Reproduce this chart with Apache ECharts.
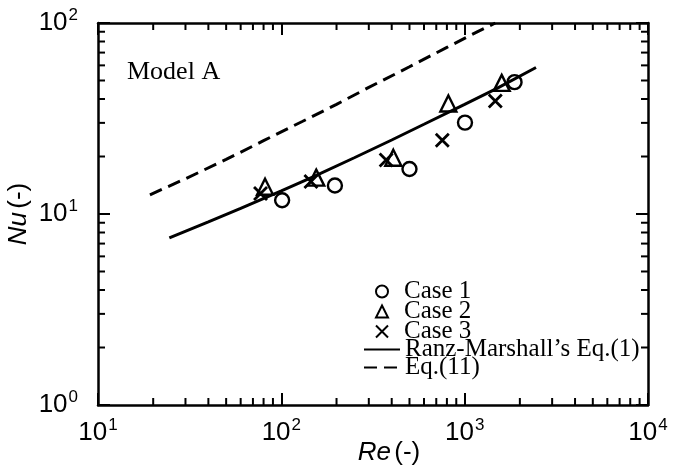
<!DOCTYPE html>
<html>
<head>
<meta charset="utf-8">
<script src="https://cdn.jsdelivr.net/npm/echarts@6/dist/echarts.min.js"></script>
<style>html,body{margin:0;padding:0;background:#fff}#c{width:673px;height:473px}</style>
</head>
<body>
<div id="c"></div>
<script>
// Case data (Re, Nu)
const case1Re = [101, 196, 500, 1004, 1871];
const case1Nu = [11.8, 14.1, 17.2, 30.1, 49.0];
const case2Re = [81.5, 155, 408, 815, 1592];
const case2Nu = [13.9, 15.5, 19.7, 37.9, 48.6];
const case3Re = [77, 145, 373, 755, 1469];
const case3Nu = [12.8, 14.8, 19.2, 24.3, 39.0];
// Ranz-Marshall's Eq.(1) curve
const rmRe = [24.5, 40, 60, 100, 150, 250, 400, 600, 1000, 1500, 2450];
const rmNu = [7.5, 9.1, 10.7, 13.2, 15.7, 19.7, 24.4, 29.5, 37.5, 45.5, 58.5];
// Eq.(11) curve
const eqRe = [19.2, 30, 50, 80, 130, 200, 300, 500, 800, 1200, 1470];
const eqNu = [12.6, 15.3, 19.3, 24.2, 30.5, 37.5, 46, 59, 74.5, 91, 100];
// Axis ranges and minor tick multipliers
const xMin = 10, xMax = 10000, yMin = 1, yMax = 100;
const minorMult = [2, 3, 4, 5, 6, 7, 8, 9];
const xDecades = [10, 100, 1000];
const yDecades = [1, 10];
const caseNames = ['Case 1', 'Case 2', 'Case 3'];
const lineNames = ["Ranz-Marshall\u2019s Eq.(1)", 'Eq.(11)'];

const zip = (a, b) => a.map((v, i) => [v, b[i]]);
const xMinor = [];
xDecades.forEach(d => minorMult.forEach(m => xMinor.push([d * m, yMin])));
const yMinor = [];
yDecades.forEach(d => minorMult.forEach(m => yMinor.push([xMin, d * m])));

const chart = echarts.init(document.getElementById('c'), null, {renderer: 'canvas'});
const lab = v => '{b|10}{s|' + Math.round(Math.log10(v)) + '}';
const labRich = {
  b: {fontFamily: 'Liberation Sans', fontSize: 26, color: '#000', lineHeight: 30},
  s: {fontFamily: 'Liberation Sans', fontSize: 17, color: '#000', padding: [0, 0, 15, 1], lineHeight: 30}
};
const axLine = {show: true, lineStyle: {color: '#000', width: 2.5}};
const majTick = {show: true, inside: true, length: 12, lineStyle: {color: '#000', width: 2}};
const MINOR = 7;

const serif = 'Liberation Serif';
const hollow = {color: 'rgba(0,0,0,0)', borderColor: '#000', borderWidth: 2.4, opacity: 1};
const titleRich = {
  i: {fontFamily: 'Liberation Sans', fontStyle: 'italic', fontSize: 26, color: '#000'},
  n: {fontFamily: 'Liberation Sans', fontSize: 26, color: '#000'}
};

chart.setOption({
  animation: false,
  backgroundColor: '#fff',
  grid: {left: 98, right: 25, top: 23, bottom: 68, containLabel: false, outerBoundsMode: 'none'},
  xAxis: [{
    type: 'log', logBase: 10, min: xMin, max: xMax, position: 'bottom',
    axisLine: axLine, axisTick: majTick, splitLine: {show: false},
    axisLabel: {formatter: lab, rich: labRich, margin: 13},
    name: '{i|Re} {n|(-)}', nameLocation: 'middle', nameGap: 35, nameMoveOverlap: false,
    nameTextStyle: {rich: titleRich, padding: [0, 0, 0, 32]}
  }, {
    type: 'log', logBase: 10, min: xMin, max: xMax, position: 'top',
    axisLine: axLine, axisTick: majTick, axisLabel: {show: false}, splitLine: {show: false}
  }],
  yAxis: [{
    type: 'log', logBase: 10, min: yMin, max: yMax, position: 'left',
    axisLine: axLine, axisTick: majTick, splitLine: {show: false},
    axisLabel: {formatter: lab, rich: labRich, margin: 20},
    name: '{i|Nu} {n|(-)}', nameLocation: 'middle', nameGap: 66, nameRotate: 90, nameMoveOverlap: false,
    nameTextStyle: {rich: titleRich}
  }, {
    type: 'log', logBase: 10, min: yMin, max: yMax, position: 'right',
    axisLine: axLine, axisTick: majTick, axisLabel: {show: false}, splitLine: {show: false}
  }],
  legend: [{
    orient: 'vertical', left: 375, top: 279, itemGap: -5, padding: 0,
    itemWidth: 12, itemHeight: 12,
    textStyle: {fontFamily: serif, fontSize: 25, color: '#000', padding: [0, 0, 0, 11]},
    data: caseNames
  }, {
    orient: 'vertical', left: 363, top: 337, itemGap: -7, padding: 0,
    itemWidth: 36, itemHeight: 12,
    itemStyle: {opacity: 0},
    textStyle: {fontFamily: serif, fontSize: 25, color: '#000'},
    data: lineNames
  }],
  graphic: [{
    type: 'text', left: 127, top: 59,
    style: {text: 'Model A', font: '26px "Liberation Serif"', fill: '#000'}
  }],
  series: [
    {name: lineNames[0], type: 'line', data: zip(rmRe, rmNu), symbol: 'none', color: '#000',
     lineStyle: {color: '#000', width: 3}, z: 3},
    {name: lineNames[1], type: 'line', data: zip(eqRe, eqNu), symbol: 'none', color: '#000',
     lineStyle: {color: '#000', width: 3, type: [13, 7]}, z: 3},
    {name: caseNames[0], type: 'scatter', data: zip(case1Re, case1Nu), symbol: 'circle',
     symbolSize: 14, itemStyle: hollow, z: 4},
    {name: caseNames[1], type: 'scatter', data: zip(case2Re, case2Nu), symbol: 'triangle',
     symbolSize: 16, itemStyle: hollow, z: 4},
    {name: caseNames[2], type: 'scatter', data: zip(case3Re, case3Nu),
     symbol: 'path://M0,0L10,10M10,0L0,10', symbolSize: 13,
     itemStyle: {color: 'rgba(0,0,0,0)', borderColor: '#000', borderWidth: 2.8, opacity: 1}, z: 4},
    {type: 'custom', silent: true, data: xMinor, clip: false, z: 5,
     renderItem: (params, api) => {
       const v = api.value(0);
       const b = api.coord([v, yMin]);
       const t = api.coord([v, yMax]);
       const st = {stroke: '#000', lineWidth: 2};
       return {type: 'group', children: [
         {type: 'line', shape: {x1: b[0], y1: b[1], x2: b[0], y2: b[1] - MINOR}, style: st},
         {type: 'line', shape: {x1: t[0], y1: t[1], x2: t[0], y2: t[1] + MINOR}, style: st}
       ]};
     }},
    {type: 'custom', silent: true, data: yMinor, clip: false, z: 5,
     renderItem: (params, api) => {
       const v = api.value(1);
       const l = api.coord([xMin, v]);
       const r = api.coord([xMax, v]);
       const st = {stroke: '#000', lineWidth: 2};
       return {type: 'group', children: [
         {type: 'line', shape: {x1: l[0], y1: l[1], x2: l[0] + MINOR, y2: l[1]}, style: st},
         {type: 'line', shape: {x1: r[0], y1: r[1], x2: r[0] - MINOR, y2: r[1]}, style: st}
       ]};
     }}
  ]
});
</script>
</body>
</html>
